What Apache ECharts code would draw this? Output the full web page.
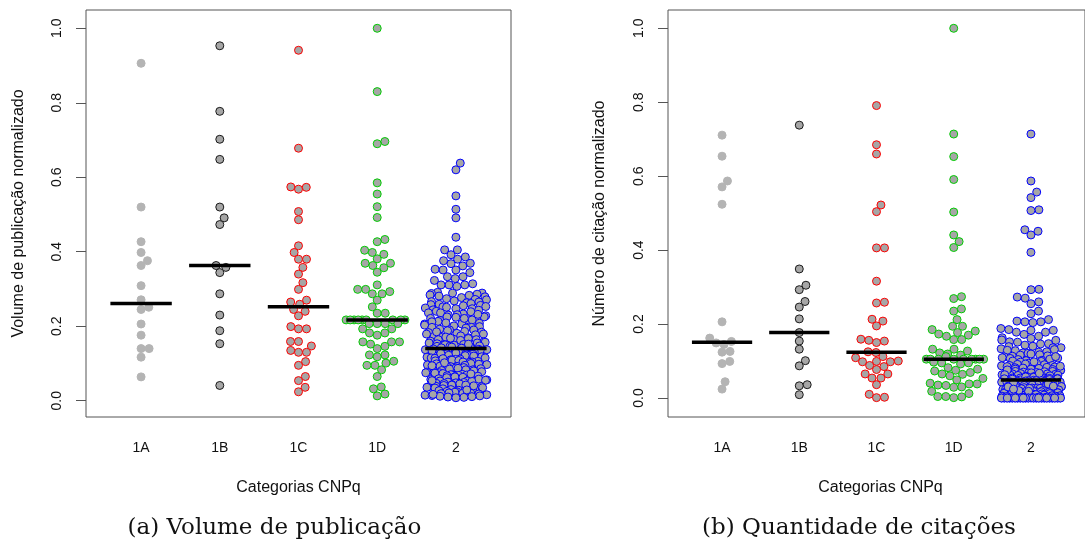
<!DOCTYPE html>
<html>
<head>
<meta charset="utf-8">
<script src="https://cdn.jsdelivr.net/npm/echarts@6/dist/echarts.min.js"></script>
<style>
  html, body { margin: 0; padding: 0; background: #fff; }
  #c { width: 1085px; height: 547px; }
</style>
</head>
<body>
<div id="c"></div>
<script>
// CNPq research-productivity categories
const categories = ['1A', '1B', '1C', '1D', '2'];
const yTicks = [0, 0.2, 0.4, 0.6, 0.8, 1.0];

// (a) normalized publication volume per researcher
const pub1A = [0.906, 0.520, 0.427, 0.398, 0.376, 0.363, 0.309, 0.271, 0.251, 0.245, 0.206, 0.176, 0.140, 0.140, 0.117, 0.064];
const pub1B = [0.953, 0.777, 0.702, 0.648, 0.520, 0.491, 0.473, 0.363, 0.358, 0.344, 0.287, 0.230, 0.188, 0.153, 0.041];
const pub1C = [0.941, 0.678, 0.574, 0.573, 0.568, 0.508, 0.486, 0.416, 0.398, 0.380, 0.380, 0.358, 0.340, 0.317, 0.299, 0.270, 0.265, 0.259,
  0.245, 0.240, 0.228, 0.199, 0.193, 0.193, 0.159, 0.159, 0.147, 0.135, 0.130, 0.130, 0.105, 0.095, 0.065, 0.054, 0.036, 0.024];
const pub1D = [1.000, 0.830, 0.696, 0.690, 0.585, 0.555, 0.521, 0.492, 0.433, 0.427, 0.404, 0.398, 0.393, 0.381, 0.369, 0.369, 0.363, 0.357,
  0.345, 0.311, 0.299, 0.299, 0.293, 0.287, 0.287, 0.270, 0.252, 0.235, 0.235,
  0.217, 0.217, 0.217, 0.217, 0.217, 0.217, 0.217, 0.217, 0.217, 0.207, 0.207, 0.207, 0.207,
  0.193, 0.193, 0.182, 0.182, 0.176, 0.158, 0.158, 0.158, 0.152, 0.146, 0.140,
  0.123, 0.123, 0.118, 0.106, 0.101, 0.095, 0.095, 0.083, 0.065, 0.037, 0.032, 0.018, 0.013];
const pub2 = [0.638, 0.620, 0.550, 0.514, 0.491, 0.439, 0.405, 0.405, 0.392, 0.386, 0.380, 0.376, 0.369, 0.368, 0.362, 0.353, 0.351, 0.351,
  0.344, 0.333, 0.333, 0.328, 0.323, 0.314, 0.311, 0.311, 0.311, 0.307,
  0.291, 0.289, 0.289, 0.288, 0.286, 0.284, 0.283, 0.281, 0.279, 0.277,
  0.274, 0.272, 0.271, 0.268, 0.266, 0.265, 0.263, 0.261, 0.259, 0.258, 0.256, 0.255, 0.253, 0.252, 0.251,
  0.249, 0.247, 0.247, 0.244, 0.243, 0.240, 0.239, 0.236, 0.236, 0.233,
  0.231, 0.230, 0.228, 0.225, 0.225, 0.224, 0.221, 0.219, 0.217, 0.217,
  0.216, 0.213, 0.212, 0.209, 0.208, 0.206, 0.206, 0.203, 0.201, 0.199,
  0.197, 0.197, 0.195, 0.192, 0.190, 0.190, 0.188, 0.186, 0.184, 0.183,
  0.181, 0.179, 0.179, 0.177, 0.174, 0.173, 0.171, 0.171, 0.169, 0.167,
  0.165, 0.164, 0.164, 0.162, 0.160, 0.158, 0.157, 0.155, 0.155, 0.153,
  0.151, 0.150, 0.149, 0.147, 0.146, 0.146, 0.144, 0.143, 0.142, 0.141,
  0.141, 0.145, 0.152, 0.168, 0.185, 0.221, 0.232,
  0.139, 0.138, 0.137, 0.137, 0.135, 0.134, 0.133, 0.132, 0.131, 0.130,
  0.129, 0.128, 0.126, 0.126, 0.125, 0.123, 0.122, 0.121, 0.120, 0.119,
  0.118, 0.117, 0.115, 0.115, 0.114, 0.112, 0.111, 0.110, 0.109, 0.108,
  0.107, 0.106, 0.104, 0.104, 0.103, 0.101, 0.100, 0.099, 0.098, 0.097,
  0.096, 0.095, 0.093, 0.092, 0.092, 0.090, 0.089, 0.088, 0.087, 0.086,
  0.085, 0.083, 0.083, 0.081, 0.080, 0.079, 0.078, 0.077, 0.075, 0.075,
  0.074, 0.073, 0.071, 0.070, 0.069, 0.068, 0.067, 0.066, 0.064, 0.064,
  0.063, 0.062, 0.060, 0.059, 0.058, 0.057, 0.056, 0.055, 0.053, 0.053,
  0.052, 0.050, 0.049, 0.048, 0.047, 0.046, 0.045, 0.043, 0.042, 0.042,
  0.041, 0.039, 0.038, 0.037, 0.036, 0.035, 0.034, 0.032, 0.031, 0.031,
  0.030, 0.028, 0.027, 0.026, 0.025, 0.024, 0.023, 0.021, 0.020, 0.020,
  0.019, 0.018, 0.016, 0.015, 0.014, 0.013, 0.012, 0.011, 0.010, 0.009,
  0.127, 0.113, 0.094, 0.072, 0.054, 0.040, 0.029, 0.017, 0.008, 0.102];

// (b) normalized citation count per researcher
const cit1A = [0.711, 0.654, 0.587, 0.571, 0.524, 0.206, 0.162, 0.153, 0.149, 0.145, 0.126, 0.124, 0.099, 0.093, 0.044, 0.024];
const cit1B = [0.738, 0.349, 0.305, 0.293, 0.261, 0.246, 0.214, 0.177, 0.154, 0.132, 0.101, 0.087, 0.036, 0.033, 0.009];
const cit1C = [0.791, 0.685, 0.660, 0.522, 0.504, 0.406, 0.406, 0.316, 0.259, 0.257, 0.213, 0.208, 0.195, 0.159, 0.156, 0.154, 0.150, 0.125,
  0.123, 0.112, 0.109, 0.100, 0.099, 0.098, 0.098, 0.088, 0.085, 0.077, 0.065, 0.065, 0.054, 0.054, 0.036, 0.010, 0.002, 0.001];
const cit1D = [1.000, 0.714, 0.653, 0.591, 0.503, 0.441, 0.423, 0.407, 0.274, 0.269, 0.241, 0.235, 0.212, 0.194, 0.194,
  0.185, 0.181, 0.177, 0.173, 0.170, 0.167, 0.158, 0.158, 0.132, 0.132, 0.127, 0.122, 0.119, 0.116, 0.112,
  0.105, 0.105, 0.105, 0.105, 0.105, 0.105, 0.105, 0.105, 0.105,
  0.097, 0.095, 0.095, 0.092, 0.082, 0.078, 0.075, 0.073, 0.069, 0.065, 0.064, 0.060, 0.053, 0.049,
  0.040, 0.038, 0.038, 0.035, 0.034, 0.030, 0.029, 0.018, 0.012, 0.004, 0.004, 0.003, 0.001];
const cit2 = [0.714, 0.587, 0.557, 0.542, 0.509, 0.507, 0.455, 0.451, 0.441, 0.394, 0.294, 0.293,
  0.273, 0.270, 0.260, 0.255, 0.235, 0.228, 0.212, 0.208, 0.206, 0.206, 0.204, 0.188, 0.185, 0.183, 0.183, 0.178, 0.178, 0.172, 0.167, 0.163,
  0.161, 0.157, 0.156, 0.152, 0.151, 0.147, 0.146, 0.143, 0.140, 0.139,
  0.136, 0.136, 0.133, 0.131, 0.129, 0.128, 0.125, 0.124, 0.122, 0.121,
  0.119, 0.117, 0.116, 0.114, 0.113, 0.111, 0.109, 0.108, 0.107, 0.105,
  0.104, 0.102, 0.101, 0.100, 0.099, 0.097, 0.096, 0.094, 0.094, 0.092,
  0.091, 0.090, 0.088, 0.088, 0.087, 0.085, 0.084, 0.083, 0.082, 0.081,
  0.080, 0.078, 0.078, 0.077, 0.075, 0.075, 0.074, 0.072, 0.072, 0.071,
  0.070, 0.069, 0.068, 0.068, 0.066, 0.065, 0.065, 0.064, 0.063, 0.062,
  0.062, 0.061, 0.060, 0.059, 0.059, 0.058, 0.057, 0.056, 0.056, 0.055,
  0.054, 0.054, 0.053, 0.053, 0.052, 0.051, 0.051, 0.050, 0.050, 0.049,
  0.112, 0.098, 0.086, 0.076, 0.067, 0.063, 0.057, 0.052,
  0.048, 0.047, 0.047, 0.046, 0.045, 0.045, 0.044, 0.043, 0.043, 0.042,
  0.041, 0.041, 0.040, 0.039, 0.039, 0.038, 0.037, 0.037, 0.036, 0.035,
  0.035, 0.034, 0.033, 0.033, 0.032, 0.031, 0.031, 0.030, 0.029, 0.029,
  0.028, 0.027, 0.027, 0.026, 0.025, 0.025, 0.024, 0.023, 0.023, 0.022,
  0.021, 0.021, 0.020, 0.019, 0.019, 0.018, 0.017, 0.017, 0.016, 0.015,
  0.015, 0.014, 0.013, 0.013, 0.012, 0.011, 0.011, 0.010, 0.009, 0.009,
  0.008, 0.007, 0.007, 0.006, 0.005, 0.005, 0.004, 0.003, 0.003, 0.002,
  0.002, 0.001, 0.044, 0.038, 0.032, 0.026, 0.020, 0.016, 0.010, 0.006,
  0.041, 0.030, 0.024, 0.018, 0.004,
  0, 0, 0, 0, 0, 0, 0, 0, 0, 0, 0, 0, 0, 0, 0,
  0, 0, 0, 0, 0, 0, 0, 0, 0, 0, 0, 0, 0, 0, 0,
  0, 0, 0, 0, 0, 0, 0, 0, 0, 0, 0, 0, 0, 0, 0];

const panels = [
  { sets: [pub1A, pub1B, pub1C, pub1D, pub2], yTitle: 'Volume de publicação normalizado', caption: '(a) Volume de publicação' },
  { sets: [cit1A, cit1B, cit1C, cit1D, cit2], yTitle: 'Número de citação normalizado', caption: '(b) Quantidade de citações' }
];

const gridBoxes = [
  { left: 86, top: 10, width: 425, height: 407 },
  { left: 668, top: 10, width: 425, height: 407 }
];
const yRanges = [[-0.0437, 1.0491], [-0.0514, 1.0495]];

const pointStyles = [
  { color: '#b4b4b4', borderColor: '#b4b4b4' },
  { color: '#a6a6a6', borderColor: '#1a1a1a' },
  { color: '#a6a6a6', borderColor: '#ff0000' },
  { color: '#a6a6a6', borderColor: '#00cd00' },
  { color: '#a6a6a6', borderColor: '#0000ff' }
];

const SANS = '"Liberation Sans", Arial, sans-serif';
const SERIF = '"DejaVu Serif", serif';

const chart = echarts.init(document.getElementById('c'), null, { renderer: 'canvas' });

chart.setOption({
  animation: false,
  backgroundColor: '#ffffff',
  grid: gridBoxes.map(g => Object.assign({ show: true, borderColor: '#555555', borderWidth: 1, backgroundColor: 'transparent', containLabel: false }, g)),
  xAxis: [0, 1].map(i => ({
    type: 'value', gridIndex: i, min: 0.3, max: 5.7,
    axisLine: { show: false }, axisTick: { show: false }, splitLine: { show: false },
    axisLabel: {
      customValues: [1, 2, 3, 4, 5],
      formatter: v => categories[Math.round(v) - 1],
      margin: 24, fontSize: 14, color: '#111', fontFamily: SANS
    }
  })),
  yAxis: [0, 1].map(i => ({
    type: 'value', gridIndex: i, min: yRanges[i][0], max: yRanges[i][1],
    axisLine: { show: false }, splitLine: { show: false },
    axisTick: { show: true, customValues: yTicks, length: 10, lineStyle: { color: '#555555', width: 1 } },
    axisLabel: {
      customValues: yTicks, rotate: 90, formatter: v => v.toFixed(1),
      margin: 22, fontSize: 14, color: '#111', fontFamily: SANS
    }
  }))
});

// Beeswarm placement ("swarm" method, ascending priority), in pixel space
function swarmOffsets(values, ysPx, s) {
  const order = values.map((v, i) => i).sort((a, b) => (values[a] - values[b]) || (a - b));
  const placed = [];
  const out = new Array(values.length);
  for (const i of order) {
    const y = ysPx[i];
    const near = placed.filter(p => Math.abs(p.y - y) < s);
    const plus = [], minus = [];
    for (const p of near) {
      const d = Math.sqrt(s * s - (p.y - y) * (p.y - y));
      plus.push(p.x + d);
      minus.push(p.x - d);
    }
    const cand = [0].concat(plus, minus)
      .map((c, k) => ({ c, k }))
      .sort((a, b) => (Math.abs(a.c) - Math.abs(b.c)) || (a.k - b.k));
    let x = 0;
    for (const { c } of cand) {
      if (near.every(p => (c - p.x) * (c - p.x) + (y - p.y) * (y - p.y) >= s * s * 0.999)) { x = c; break; }
    }
    placed.push({ x, y });
    out[i] = x;
  }
  return out;
}

function median(arr) {
  const a = arr.slice().sort((p, q) => p - q);
  const m = a.length >> 1;
  return a.length % 2 ? a[m] : (a[m - 1] + a[m]) / 2;
}

const SPACING = 8;     // px between neighbouring point centres
const HALF_BAR = 0.39; // half length of the median bar, in category units
const series = [];

panels.forEach((panel, g) => {
  const finder = { gridIndex: g };
  const unit = chart.convertToPixel(finder, [2, 0])[0] - chart.convertToPixel(finder, [1, 0])[0];
  const corral = unit - 2 * SPACING; // wrap points that would leave this band
  panel.sets.forEach((vals, k) => {
    const ysPx = vals.map(v => chart.convertToPixel(finder, [k + 1, v])[1]);
    const offs = swarmOffsets(vals, ysPx, SPACING).map(o => {
      const w = ((o + corral / 2) % corral + corral) % corral;
      return w - corral / 2;
    });
    series.push({
      type: 'scatter', xAxisIndex: g, yAxisIndex: g, silent: true, z: 2,
      symbol: 'circle', symbolSize: 8,
      itemStyle: Object.assign({ borderWidth: 1, opacity: 1 }, pointStyles[k]),
      data: vals.map((v, i) => [k + 1 + offs[i] / unit, v])
    });
  });
  panel.sets.forEach((vals, k) => {
    const m = median(vals);
    series.push({
      type: 'line', xAxisIndex: g, yAxisIndex: g, silent: true, z: 3,
      symbol: 'none', lineStyle: { color: '#000', width: 3.5, cap: 'butt' },
      data: [[k + 1 - HALF_BAR, m], [k + 1 + HALF_BAR, m]]
    });
  });
});

const texts = [];
panels.forEach((panel, g) => {
  const box = gridBoxes[g];
  const yTitleX = g === 0 ? 18.5 : 600;
  texts.push({
    type: 'text', x: yTitleX, y: box.top + box.height / 2, rotation: Math.PI / 2,
    style: { text: panel.yTitle, fontSize: 16, fontFamily: SANS, fill: '#111',
      align: 'center', verticalAlign: 'middle', textAlign: 'center', textVerticalAlign: 'middle' }
  });
  texts.push({
    type: 'text', x: box.left + box.width / 2, y: 488,
    style: { text: 'Categorias CNPq', fontSize: 16, fontFamily: SANS, fill: '#111',
      align: 'center', verticalAlign: 'middle', textAlign: 'center', textVerticalAlign: 'middle' }
  });
  texts.push({
    type: 'text', x: g === 0 ? 274.5 : 859, y: 528,
    style: { text: panel.caption, fontSize: 23, fontFamily: SERIF, fill: '#111',
      align: 'center', verticalAlign: 'middle', textAlign: 'center', textVerticalAlign: 'middle' }
  });
});

chart.setOption({ series: series, graphic: { elements: texts } });
</script>
</body>
</html>
